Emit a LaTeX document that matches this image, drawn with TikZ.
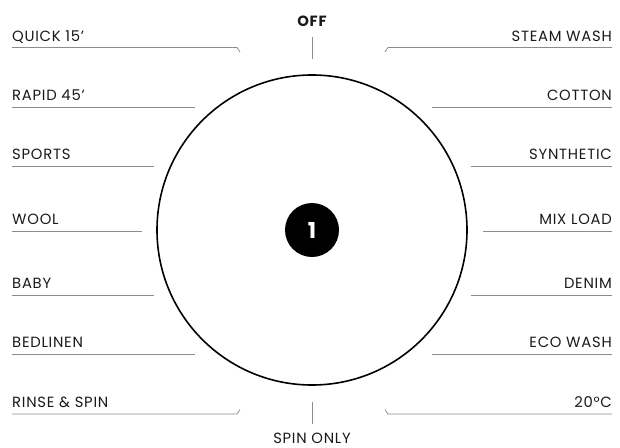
\documentclass[tikz,border=0pt]{standalone}
\usepackage{fontspec}
\setmainfont{Poppins}[LetterSpace=5]
\definecolor{txt}{HTML}{1A1A1A}
\definecolor{rule}{HTML}{8C8C8C}
\begin{document}
\begin{tikzpicture}[x=1pt,y=-1pt,
  lab/.style={inner sep=0pt,font=\fontsize{14.8}{16}\selectfont,text=txt},
  labl/.style={lab,anchor=base west},
  labr/.style={lab,anchor=base east},
  uline/.style={draw=rule,line width=0.8pt}]
\useasboundingbox (0,0) rectangle (620,447);
% dial
\node[circle,draw=black,line width=1.6pt,minimum size=310pt,inner sep=0pt] (dial) at (312,230) {};
\node[circle,fill=black,minimum size=54pt,inner sep=0pt,text=white,font=\fontsize{22}{24}\selectfont\bfseries] (num) at (312,230) {1};
% top / bottom
\node[lab,anchor=base,font=\fontsize{14.8}{16}\selectfont\bfseries] (off) at (312,26) {OFF};
\coordinate (offa) at (312,37);
\coordinate (offb) at (312,59);
\draw[uline] (offa) -- (offb);
\node[lab,anchor=base] (spin) at (312,443) {SPIN ONLY};
\coordinate (spa) at (312,402);
\coordinate (spb) at (312,424);
\draw[uline] (spa) -- (spb);
% left labels
\node[labl] (l1) at (12,41) {QUICK 15’};
\node[labl] (l2) at (12,100.5) {RAPID 45’};
\node[labl] (l3) at (12,159.5) {SPORTS};
\node[labl] (l4) at (12,224.5) {WOOL};
\node[labl] (l5) at (12,288.5) {BABY};
\node[labl] (l6) at (12,347.5) {BEDLINEN};
\node[labl] (l7) at (12,407.5) {RINSE \& SPIN};
% right labels
\node[labr] (r1) at (612,41) {STEAM WASH};
\node[labr] (r2) at (612,100.5) {COTTON};
\node[labr] (r3) at (612,159.5) {SYNTHETIC};
\node[labr] (r4) at (612,224.5) {MIX LOAD};
\node[labr] (r5) at (612,288.5) {DENIM};
\node[labr] (r6) at (612,347.5) {ECO WASH};
\node[labr] (r7) at (612,407.5) {20°C};
% left rules
\draw[uline] (12,47.5) -- (237,47.5) -- (240,52);
\draw[uline] (12,107) -- (195,107);
\draw[uline] (12,166) -- (154,166);
\draw[uline] (12,231) -- (142,231);
\draw[uline] (12,295) -- (154,295);
\draw[uline] (12,354) -- (195,354);
\draw[uline] (12,414) -- (237,414) -- (240,409.5);
% right rules
\draw[uline] (612,47.5) -- (388,47.5) -- (385,52);
\draw[uline] (612,107) -- (432,107);
\draw[uline] (612,166) -- (471,166);
\draw[uline] (612,231) -- (483,231);
\draw[uline] (612,295) -- (471,295);
\draw[uline] (612,354) -- (432,354);
\draw[uline] (612,414) -- (388,414) -- (385,409.5);
\end{tikzpicture}
\end{document}
